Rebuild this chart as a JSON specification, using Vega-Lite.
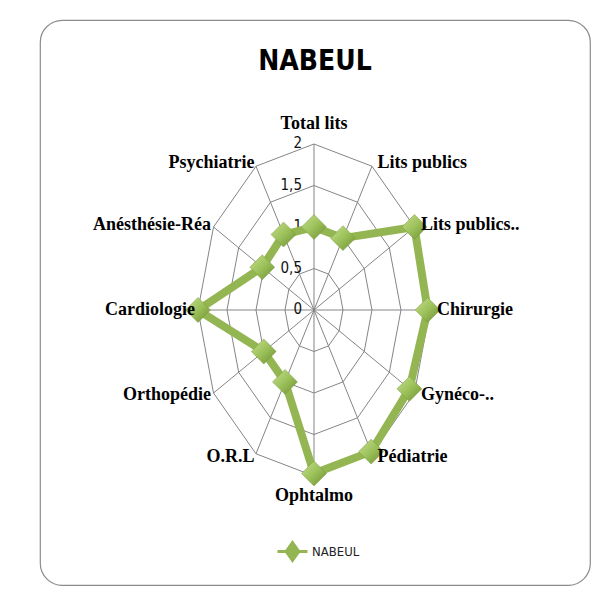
{
  "$schema": "https://vega.github.io/schema/vega-lite/v6.json",
  "width": 550,
  "height": 565,
  "autosize": {"type": "none"},
  "padding": {"left": 40, "top": 20, "right": 4, "bottom": 18},
  "background": "white",
  "config": {
    "view": {"stroke": "#8c8c8c", "strokeWidth": 1.2, "cornerRadius": 22},
    "text": {"font": "Liberation Serif"}
  },
  "title": {
    "text": "NABEUL",
    "font": "DejaVu Sans Condensed, Liberation Sans Narrow, sans-serif",
    "fontSize": 28,
    "fontWeight": "bold",
    "color": "#000000",
    "anchor": "middle",
    "offset": -56
  },
  "datasets": {
    "cats": [
      {"cat": "Total lits", "i": 0, "v": 1.0, "serie": "NABEUL"},
      {"cat": "Lits publics", "i": 1, "v": 1.0, "serie": "NABEUL"},
      {"cat": "Lits publics..", "i": 2, "v": 2.0, "serie": "NABEUL"},
      {"cat": "Chirurgie", "i": 3, "v": 1.96, "serie": "NABEUL"},
      {"cat": "Gynéco-..", "i": 4, "v": 1.9, "serie": "NABEUL"},
      {"cat": "Pédiatrie", "i": 5, "v": 1.97, "serie": "NABEUL"},
      {"cat": "Ophtalmo", "i": 6, "v": 1.97, "serie": "NABEUL"},
      {"cat": "O.R.L", "i": 7, "v": 1.0, "serie": "NABEUL"},
      {"cat": "Orthopédie", "i": 8, "v": 1.0, "serie": "NABEUL"},
      {"cat": "Cardiologie", "i": 9, "v": 2.0, "serie": "NABEUL"},
      {"cat": "Anésthésie-Réa", "i": 10, "v": 1.03, "serie": "NABEUL"},
      {"cat": "Psychiatrie", "i": 11, "v": 1.05, "serie": "NABEUL"}
    ],
    "grid": [
      {"ring": 0.5, "i": 0}, {"ring": 0.5, "i": 1}, {"ring": 0.5, "i": 2}, {"ring": 0.5, "i": 3},
      {"ring": 0.5, "i": 4}, {"ring": 0.5, "i": 5}, {"ring": 0.5, "i": 6}, {"ring": 0.5, "i": 7},
      {"ring": 0.5, "i": 8}, {"ring": 0.5, "i": 9}, {"ring": 0.5, "i": 10}, {"ring": 0.5, "i": 11},
      {"ring": 1, "i": 0}, {"ring": 1, "i": 1}, {"ring": 1, "i": 2}, {"ring": 1, "i": 3},
      {"ring": 1, "i": 4}, {"ring": 1, "i": 5}, {"ring": 1, "i": 6}, {"ring": 1, "i": 7},
      {"ring": 1, "i": 8}, {"ring": 1, "i": 9}, {"ring": 1, "i": 10}, {"ring": 1, "i": 11},
      {"ring": 1.5, "i": 0}, {"ring": 1.5, "i": 1}, {"ring": 1.5, "i": 2}, {"ring": 1.5, "i": 3},
      {"ring": 1.5, "i": 4}, {"ring": 1.5, "i": 5}, {"ring": 1.5, "i": 6}, {"ring": 1.5, "i": 7},
      {"ring": 1.5, "i": 8}, {"ring": 1.5, "i": 9}, {"ring": 1.5, "i": 10}, {"ring": 1.5, "i": 11},
      {"ring": 2, "i": 0}, {"ring": 2, "i": 1}, {"ring": 2, "i": 2}, {"ring": 2, "i": 3},
      {"ring": 2, "i": 4}, {"ring": 2, "i": 5}, {"ring": 2, "i": 6}, {"ring": 2, "i": 7},
      {"ring": 2, "i": 8}, {"ring": 2, "i": 9}, {"ring": 2, "i": 10}, {"ring": 2, "i": 11}
    ],
    "ticks": [
      {"t": "0", "level": 0},
      {"t": "0,5", "level": 0.5},
      {"t": "1", "level": 1},
      {"t": "1,5", "level": 1.5},
      {"t": "2", "level": 2}
    ]
  },
  "encoding": {
    "x": {"field": "x", "type": "quantitative", "axis": null, "scale": {"domain": [-4.724, 4.759], "nice": false, "zero": false}},
    "y": {"field": "y", "type": "quantitative", "axis": null, "scale": {"domain": [-3.313, 3.494], "nice": false, "zero": false}}
  },
  "layer": [
    {
      "data": {"name": "grid"},
      "transform": [
        {"calculate": "datum.ring * sin(datum.i * PI / 6)", "as": "x"},
        {"calculate": "datum.ring * cos(datum.i * PI / 6)", "as": "y"}
      ],
      "mark": {"type": "line", "interpolate": "linear-closed", "stroke": "#858585", "strokeWidth": 1},
      "encoding": {
        "detail": {"field": "ring", "type": "nominal"},
        "order": {"field": "i", "type": "quantitative"}
      }
    },
    {
      "data": {"name": "cats"},
      "transform": [
        {"calculate": "2 * sin(datum.i * PI / 6)", "as": "x"},
        {"calculate": "2 * cos(datum.i * PI / 6)", "as": "y"}
      ],
      "mark": {"type": "rule", "stroke": "#858585", "strokeWidth": 1},
      "encoding": {
        "x2": {"datum": 0},
        "y2": {"datum": 0}
      }
    },
    {
      "data": {"name": "ticks"},
      "transform": [
        {"calculate": "0", "as": "x"},
        {"calculate": "datum.level", "as": "y"}
      ],
      "mark": {"type": "text", "align": "right", "baseline": "middle", "dx": -12, "dy": -1, "font": "DejaVu Sans Condensed, Liberation Sans Narrow, sans-serif", "fontSize": 15, "color": "#111111"},
      "encoding": {"text": {"field": "t"}}
    },
    {
      "data": {"name": "cats"},
      "transform": [
        {"calculate": "datum.v * sin(datum.i * PI / 6)", "as": "x"},
        {"calculate": "datum.v * cos(datum.i * PI / 6)", "as": "y"}
      ],
      "mark": {"type": "line", "interpolate": "linear-closed", "strokeWidth": 8, "strokeJoin": "round"},
      "encoding": {
        "order": {"field": "i", "type": "quantitative"},
        "color": {
          "field": "serie",
          "type": "nominal",
          "scale": {"range": ["#93b653"]},
          "legend": {
            "title": null,
            "orient": "none",
            "legendX": 236,
            "legendY": 515,
            "symbolType": "M -1 0 L 1 0 M 0 -0.6 L 0.42 0 L 0 0.6 L -0.42 0 Z",
            "symbolSize": 900,
            "symbolStrokeWidth": 3,
            "labelFont": "DejaVu Sans Condensed, Liberation Sans Narrow, sans-serif",
            "labelFontSize": 13,
            "labelColor": "#222222",
            "labelOffset": 3,
            "encode": {"symbols": {"update": {"fill": {"value": "#93b653"}, "stroke": {"value": "#93b653"}}}}
          }
        }
      }
    },
    {
      "data": {"name": "cats"},
      "transform": [
        {"calculate": "datum.v * sin(datum.i * PI / 6)", "as": "x"},
        {"calculate": "datum.v * cos(datum.i * PI / 6)", "as": "y"}
      ],
      "mark": {
        "type": "point",
        "shape": "diamond",
        "size": 620,
        "filled": true,
        "opacity": 1,
        "fill": {
          "gradient": "linear",
          "x1": 0, "y1": 0, "x2": 1, "y2": 1,
          "stops": [
            {"offset": 0, "color": "#c6df8e"},
            {"offset": 0.5, "color": "#9cc15a"},
            {"offset": 1, "color": "#6c8d30"}
          ]
        },
        "stroke": "#7a9a3c",
        "strokeWidth": 0.5
      }
    },
    {
      "data": {"name": "cats"},
      "transform": [
        {"filter": "datum.i >= 1 && datum.i <= 5"},
        {"calculate": "2.05 * sin(datum.i * PI / 6)", "as": "x"},
        {"calculate": "2.05 * cos(datum.i * PI / 6)", "as": "y"}
      ],
      "mark": {"type": "text", "align": "left", "baseline": "middle", "dx": 4, "font": "Liberation Serif", "fontWeight": "bold", "fontSize": 18, "color": "#000000"},
      "encoding": {"text": {"field": "cat"}}
    },
    {
      "data": {"name": "cats"},
      "transform": [
        {"filter": "datum.i >= 7"},
        {"calculate": "2.05 * sin(datum.i * PI / 6)", "as": "x"},
        {"calculate": "2.05 * cos(datum.i * PI / 6)", "as": "y"}
      ],
      "mark": {"type": "text", "align": "right", "baseline": "middle", "dx": 0, "font": "Liberation Serif", "fontWeight": "bold", "fontSize": 18, "color": "#000000"},
      "encoding": {"text": {"field": "cat"}}
    },
    {
      "data": {"name": "cats"},
      "transform": [
        {"filter": "datum.i == 0"},
        {"calculate": "2.05 * sin(datum.i * PI / 6)", "as": "x"},
        {"calculate": "2.05 * cos(datum.i * PI / 6)", "as": "y"}
      ],
      "mark": {"type": "text", "align": "center", "baseline": "middle", "dy": -16, "font": "Liberation Serif", "fontWeight": "bold", "fontSize": 18, "color": "#000000"},
      "encoding": {"text": {"field": "cat"}}
    },
    {
      "data": {"name": "cats"},
      "transform": [
        {"filter": "datum.i == 6"},
        {"calculate": "2.05 * sin(datum.i * PI / 6)", "as": "x"},
        {"calculate": "2.05 * cos(datum.i * PI / 6)", "as": "y"}
      ],
      "mark": {"type": "text", "align": "center", "baseline": "middle", "dy": 16, "font": "Liberation Serif", "fontWeight": "bold", "fontSize": 18, "color": "#000000"},
      "encoding": {"text": {"field": "cat"}}
    }
  ]
}
